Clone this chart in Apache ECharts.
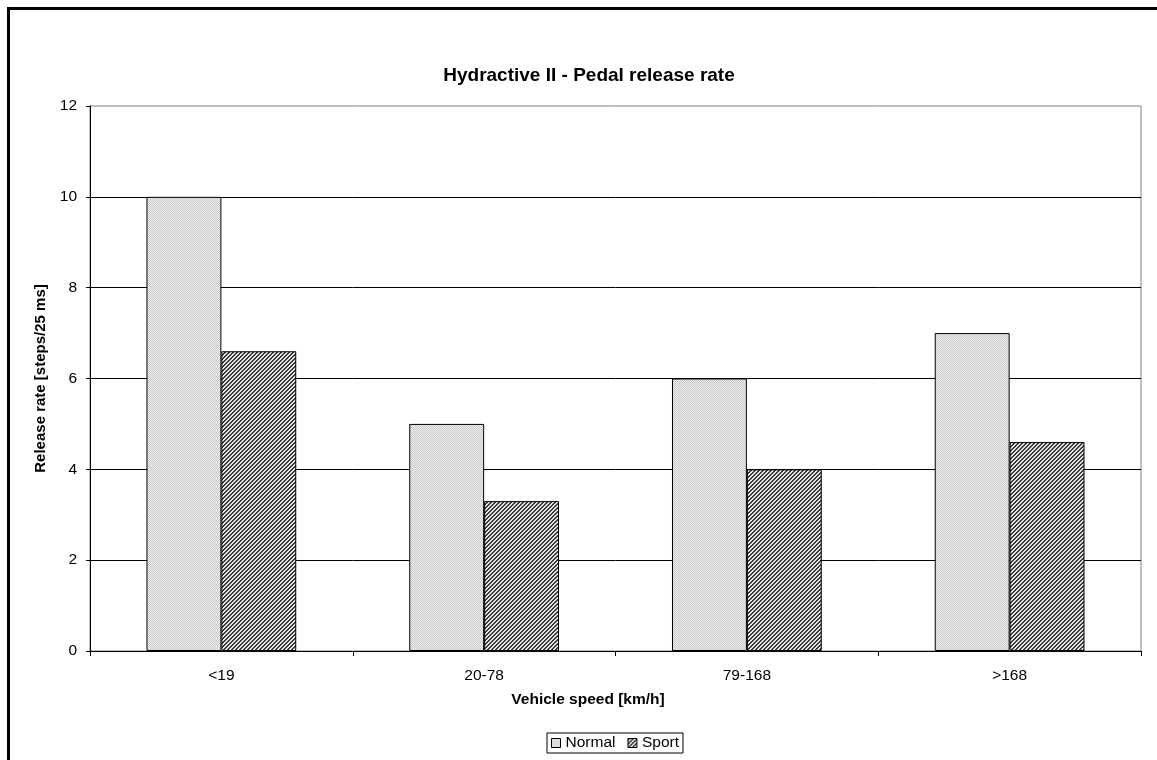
<!DOCTYPE html>
<html>
<head>
<meta charset="utf-8">
<script src="https://cdn.jsdelivr.net/npm/echarts@6/dist/echarts.min.js"></script>
<style>html,body{margin:0;padding:0;background:#fff}#c{width:1157px;height:760px}</style>
</head>
<body>
<div id="c"></div>
<script>
var categories = ['<19', '20-78', '79-168', '>168'];
var normalValues = [10, 5, 6, 7];
var sportValues = [6.6, 3.3, 4, 4.6];
var yTicks = [0, 2, 4, 6, 8, 10, 12];

function makePattern(fn, size) {
  var c = document.createElement('canvas');
  c.width = size; c.height = size;
  var ctx = c.getContext('2d');
  for (var y = 0; y < size; y++) for (var x = 0; x < size; x++) {
    ctx.fillStyle = fn(x, y);
    ctx.fillRect(x, y, 1, 1);
  }
  return c;
}
var normalPat = makePattern(function (x, y) { return (x + y) % 2 === 0 ? '#c8c8c8' : '#f0f0f0'; }, 4);
var sportPat = makePattern(function (x, y) { var k = (x + y) % 4; return (k === 0 || k === 1) ? '#3a3a3a' : '#e4e4e4'; }, 4);

var chart = echarts.init(document.getElementById('c'));
var font = 'Arial, "Liberation Sans", sans-serif';
chart.setOption({
  animation: false,
  backgroundColor: '#fff',
  textStyle: { fontFamily: font, color: '#000' },
  title: {
    text: 'Hydractive II - Pedal release rate',
    left: 584, top: 61, textAlign: 'center',
    textStyle: { fontSize: 19, fontWeight: 'bold', color: '#000', fontFamily: font }
  },
  graphic: [{
    type: 'rect', silent: true,
    shape: { x: 8.5, y: 8.5, width: 1400, height: 1000 },
    style: { fill: null, stroke: '#000', lineWidth: 3 }
  }],
  legend: {
    bottom: 7, left: 547,
    data: ['Normal', 'Sport'],
    icon: 'rect',
    itemWidth: 9, itemHeight: 9, itemGap: 12,
    borderColor: '#000', borderWidth: 1, borderRadius: 0,
    padding: [2, 4, 2, 4],
    textStyle: { fontSize: 15.5, color: '#000', fontFamily: font },
    itemStyle: { borderColor: '#000', borderWidth: 1 }
  },
  grid: {
    left: 90, right: 16, top: 106, bottom: 109,
    show: true, borderColor: '#808080', borderWidth: 1, backgroundColor: '#fff'
  },
  xAxis: {
    type: 'category', data: categories,
    name: 'Vehicle speed [km/h]', nameLocation: 'middle', nameGap: 41,
    nameTextStyle: { fontSize: 15.5, fontWeight: 'bold', color: '#000', fontFamily: font, padding: [0, 55, 0, 0] },
    axisLine: { lineStyle: { color: '#000', width: 1 } },
    axisTick: { show: true, length: 5, lineStyle: { color: '#000' } },
    axisLabel: { fontSize: 15.5, color: '#000', margin: 17, fontFamily: font }
  },
  yAxis: {
    type: 'value', min: yTicks[0], max: yTicks[yTicks.length - 1], interval: 2,
    name: 'Release rate [steps/25 ms]', nameLocation: 'middle', nameGap: 38,
    nameTextStyle: { fontSize: 15, fontWeight: 'bold', color: '#000', fontFamily: font },
    axisLine: { show: true, lineStyle: { color: '#000', width: 1 } },
    axisTick: { show: true, length: 4, lineStyle: { color: '#000' } },
    axisLabel: { fontSize: 15.5, color: '#000', margin: 13, fontFamily: font },
    splitLine: { show: true, showMinLine: false, showMaxLine: false, lineStyle: { color: '#000', width: 1 } }
  },
  series: [{
    name: 'Normal', type: 'bar', data: normalValues,
    barGap: '0%', barCategoryGap: '43%',
    itemStyle: { color: { image: normalPat, repetition: 'repeat' }, borderColor: '#000', borderWidth: 1 }
  }, {
    name: 'Sport', type: 'bar', data: sportValues,
    itemStyle: { color: { image: sportPat, repetition: 'repeat' }, borderColor: '#000', borderWidth: 1 }
  }]
});
</script>
</body>
</html>
